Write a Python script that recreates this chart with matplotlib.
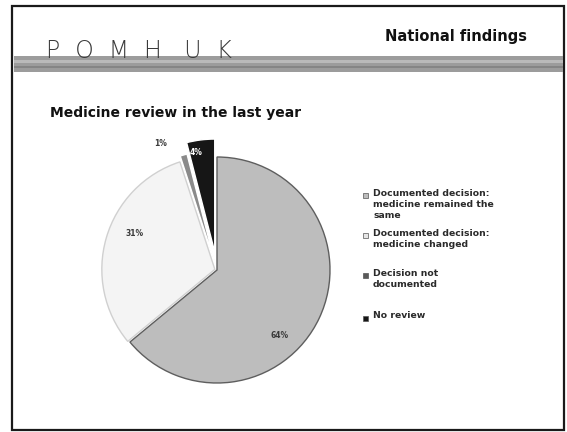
import matplotlib
matplotlib.use("Agg")
import matplotlib.pyplot as plt
from matplotlib.patches import Rectangle
import numpy as np

# Medicine review in the last year (national findings)
categories = [
    "Documented decision:\nmedicine remained the\nsame",
    "Documented decision:\nmedicine changed",
    "Decision not\ndocumented",
    "No review",
]
shares = [64, 31, 1, 4]
pct_labels = ["64%", "31%", "1%", "4%"]

slice_colors = ["#bdbdbd", "#f4f4f4", "#8a8a8a", "#161616"]
edge_colors = ["#5e5e5e", "#d0d0d0", "#ffffff", "#ffffff"]
explode = [0, 0.02, 0.06, 0.16]
# label placement (radius as fraction of pie radius, angle in degrees)
label_pos = [(0.80, -46), (0.80, 156), (1.23, 114), (1.06, 100)]
label_colors = ["#3a3a3a", "#3a3a3a", "#3a3a3a", "#ffffff"]

W, H = 567, 432
fig = plt.figure(figsize=(W / 100, H / 100), dpi=100)
fig.patch.set_facecolor("white")

# slide decoration layer in pixel coordinates
deco = fig.add_axes([0, 0, 1, 1])
deco.set_xlim(0, W)
deco.set_ylim(H, 0)
deco.axis("off")

# slide frame
deco.add_patch(Rectangle((12, 6), 552, 424, fill=False, edgecolor="#1a1a1a", lw=1.6))
# grainy header band
deco.add_patch(Rectangle((14, 56), 549, 16, facecolor="#9c9c9c", edgecolor="none"))
deco.add_patch(Rectangle((14, 60), 549, 3, facecolor="#c8c8c8", edgecolor="none", alpha=0.7))
deco.add_patch(Rectangle((14, 66), 549, 2, facecolor="#7c7c7c", edgecolor="none", alpha=0.7))

deco.text(46, 58, "P  O  M  H   U  K", fontsize=17, color="#3a3a3a",
          family="DejaVu Sans", fontweight="light", va="baseline", ha="left")
deco.text(385, 36, "National findings", fontsize=10.5, fontweight="bold",
          color="#111111", va="center", ha="left")
deco.text(50, 113, "Medicine review in the last year", fontsize=10, fontweight="bold",
          color="#111111", va="center", ha="left")

# legend entries, drawn manually to follow the slide layout
legend_y = [195, 235, 275, 318]
marker_cols = ["#bdbdbd", "#e6e6e6", "#5a5a5a", "#161616"]
for y, lab, mc in zip(legend_y, categories, marker_cols):
    deco.add_patch(Rectangle((363, y - 2.5), 5, 5, facecolor=mc, edgecolor="#555555", lw=0.5))
    deco.text(373, y - 6.5, lab, fontsize=6.7, fontweight="bold", color="#2a2a2a",
              va="top", ha="left", linespacing=1.3)

# pie chart
R_px = 113
cx, cy = 217, 270
half = 1.25
ax = fig.add_axes([(cx - half * R_px) / W, (H - cy - half * R_px) / H,
                   2 * half * R_px / W, 2 * half * R_px / H])
ax.set_xlim(-half, half)
ax.set_ylim(-half, half)
ax.set_aspect("equal")
ax.axis("off")

wedges, _ = ax.pie(shares, colors=slice_colors, startangle=90, counterclock=False,
                   explode=explode, radius=1.0,
                   wedgeprops=dict(linewidth=1.0))
for w, ec in zip(wedges, edge_colors):
    w.set_edgecolor(ec)

for (r, ang), txt, col in zip(label_pos, pct_labels, label_colors):
    a = np.deg2rad(ang)
    ax.text(r * np.cos(a), r * np.sin(a), txt, fontsize=5.5, fontweight="bold",
            color=col, ha="center", va="center")

fig.savefig("out.png", dpi=100, facecolor="white")
